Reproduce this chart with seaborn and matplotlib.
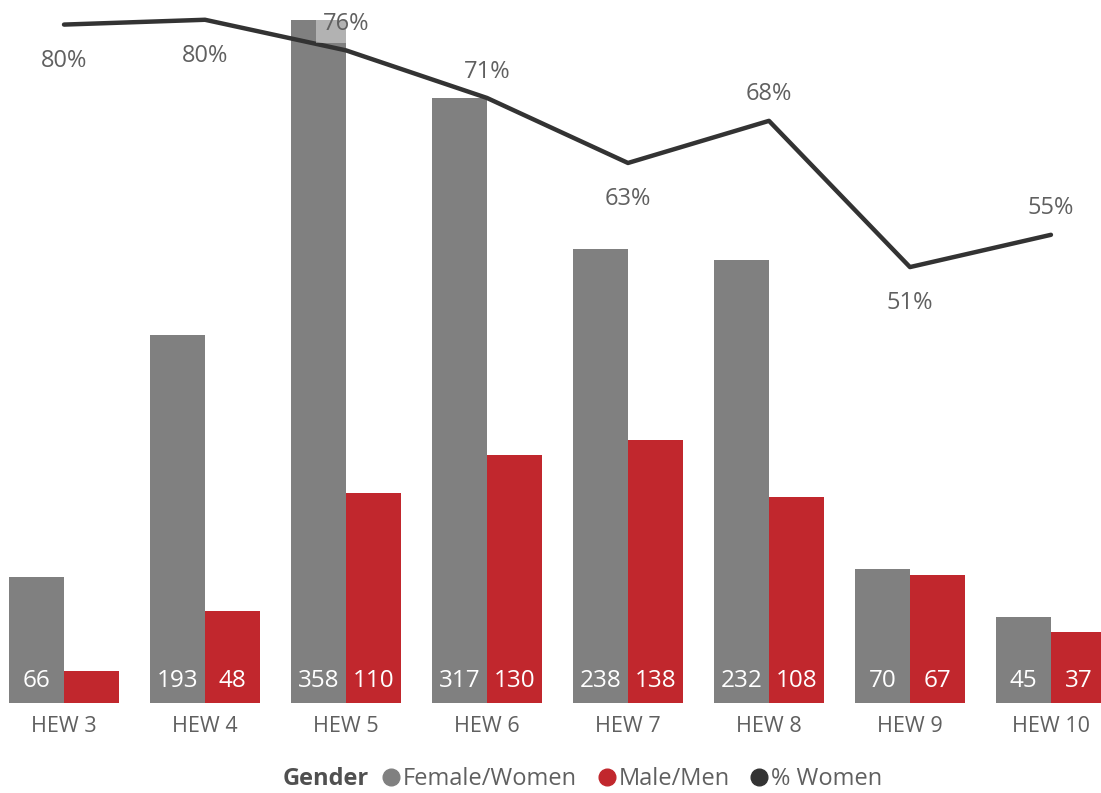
import matplotlib
matplotlib.use("Agg")
import matplotlib.pyplot as plt
from matplotlib.lines import Line2D
import seaborn as sns
import pandas as pd

# Headcount by grade and gender
grades = ["HEW 3", "HEW 4", "HEW 5", "HEW 6", "HEW 7", "HEW 8", "HEW 9", "HEW 10"]
female = [66, 193, 358, 317, 238, 232, 70, 45]
male = [17, 48, 110, 130, 138, 108, 67, 37]

# Where each percentage label sits relative to its point
pct_label_side = ["below", "below", "above", "above", "below", "above", "below", "above"]

GREY = "#808080"
RED = "#C1272D"
DARK = "#333333"
TEXT = "#606060"

sns.set_theme(style="white")
plt.rcParams["font.family"] = ["Open Sans", "DejaVu Sans"]

df = pd.DataFrame({
    "grade": grades * 2,
    "count": female + male,
    "gender": ["Female/Women"] * len(grades) + ["Male/Men"] * len(grades),
})
pct_women = [f / (f + m) for f, m in zip(female, male)]
pct_df = pd.DataFrame({"grade": grades, "pct": pct_women})

fig = plt.figure(figsize=(11.01, 7.93), dpi=100)
ax = fig.add_axes([0, 90 / 793, 1, 703 / 793])

sns.barplot(data=df, x="grade", y="count", hue="gender", order=grades,
            hue_order=["Female/Women", "Male/Men"], palette=[GREY, RED],
            width=0.78, gap=0, saturation=1, linewidth=0, ax=ax, legend=False)

ax.set_xlim(-0.454, 7.355)
ax.set_ylim(0, 368.5)
ax.set_xlabel("")
ax.set_ylabel("")
ax.set_yticks([])
ax.tick_params(axis="x", length=0, pad=9, labelsize=15.5, labelcolor=TEXT)
for s in ax.spines.values():
    s.set_visible(False)

# value labels inside bar bottoms
for cont in ax.containers:
    for rect in cont:
        h = rect.get_height()
        if h < 25:
            continue
        cx = rect.get_x() + rect.get_width() / 2
        ax.annotate(f"{int(round(h))}", xy=(cx, 0), xytext=(0, 16),
                    textcoords="offset points", ha="center", va="center",
                    color="white", fontsize=17.5)

# percentage of women on a secondary axis
ax2 = ax.twinx()
sns.lineplot(data=pct_df, x="grade", y="pct", color=DARK, linewidth=3.2,
             sort=False, ax=ax2)
ax2.set_ylim(0, 0.824)
ax2.set_xlim(-0.454, 7.355)
ax2.set_yticks([])
ax2.set_ylabel("")
ax2.set_xlabel("")
for s in ax2.spines.values():
    s.set_visible(False)

for i, (p, side) in enumerate(zip(pct_women, pct_label_side)):
    dy = 19 if side == "above" else -26
    kw = {}
    if grades[i] == "HEW 5":
        kw["bbox"] = dict(boxstyle="square,pad=0.3", fc="white", ec="none", alpha=0.4)
    ax2.annotate(f"{p:.0%}", xy=(i, p), xytext=(0, dy), textcoords="offset points",
                 ha="center", va="center", color=TEXT, fontsize=17, **kw)

# legend
fig.text(283 / 1101, 1 - 779 / 793, "Gender", fontsize=17, fontweight="bold",
         color="#505050", ha="left", va="center")
handles = [
    Line2D([], [], marker="o", linestyle="none", markersize=12, color=GREY),
    Line2D([], [], marker="o", linestyle="none", markersize=12, color=RED),
    Line2D([], [], marker="o", linestyle="none", markersize=12, color=DARK),
]
leg = fig.legend(handles, ["Female/Women", "Male/Men", "% Women"], ncol=3,
                 loc="center left", bbox_to_anchor=(383 / 1101, 1 - 779 / 793),
                 frameon=False, fontsize=17, handlelength=0.7, handletextpad=0.15,
                 columnspacing=0.9, borderpad=0, borderaxespad=0)
for t in leg.get_texts():
    t.set_color(TEXT)

fig.savefig("out.png", dpi=100)
